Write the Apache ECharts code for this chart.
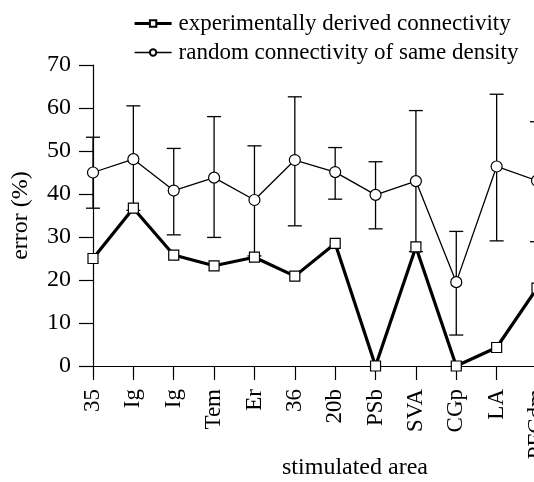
<!DOCTYPE html>
<html>
<head>
<meta charset="utf-8">
</head>
<body style="margin:0; background:#fff">
<div id="main" style="width:534px; height:482px"></div>
<script src="https://cdn.jsdelivr.net/npm/echarts@6/dist/echarts.min.js"></script>
<script>
// stimulated areas (x categories)
var areas = ['35', 'Ig', 'Ig', 'Tem', 'Er', '36', '20b', 'PSb', 'SVA', 'CGp', 'LA', 'PFCdm'];
// error (%) with experimentally derived connectivity
var experimental = [25, 36.7, 25.8, 23.3, 25.3, 20.9, 28.5, 0, 27.7, 0, 4.3, 18.1];
// error (%) with random connectivity of same density, and its error bars
var randomMean = [45, 48.1, 40.8, 43.8, 38.6, 47.9, 45.1, 39.8, 43, 19.5, 46.4, 43.1];
var randomLow  = [36.7, 36.2, 30.5, 29.9, 25.6, 32.6, 38.8, 31.9, 26.6, 7.2, 29.1, 28.9];
var randomHigh = [53.2, 60.5, 50.6, 58, 51.2, 62.6, 50.8, 47.5, 59.4, 31.3, 63.2, 56.8];

var serif = "'Liberation Serif', 'Times New Roman', serif";

var errData = areas.map(function (a, i) {
  return [i, randomLow[i], randomHigh[i]];
});

var chart = echarts.init(document.getElementById('main'));
chart.setOption({
  animation: false,
  backgroundColor: '#fff',
  textStyle: { fontFamily: serif, color: '#000' },
  title: {
    text: 'stimulated area',
    left: 355,
    top: 456,
    textAlign: 'center',
    padding: 0,
    textStyle: { fontFamily: serif, fontSize: 24, fontWeight: 'normal', color: '#000' }
  },
  legend: {
    orient: 'vertical',
    left: 133,
    top: 12,
    itemWidth: 37,
    itemHeight: 8,
    itemGap: 6,
    padding: 0,
    data: [
      { name: 'experimentally derived connectivity', lineStyle: { width: 3.2, color: '#000' } },
      { name: 'random connectivity of same density', lineStyle: { width: 1.3, color: '#000' } }
    ],
    textStyle: { fontFamily: serif, fontSize: 23, color: '#000', lineHeight: 21, padding: [0, 0, 0, 2] }
  },
  grid: { left: 93, right: -3, top: 65, bottom: 116, outerBoundsMode: 'none', containLabel: false },
  xAxis: {
    type: 'category',
    data: areas,
    boundaryGap: false,
    axisLine: { lineStyle: { color: '#000', width: 1.2 } },
    axisTick: { length: 14, lineStyle: { color: '#000', width: 1.2 } },
    axisLabel: { rotate: 90, margin: 23, fontFamily: serif, fontSize: 23, color: '#000', hideOverlap: false },
    splitLine: { show: false }
  },
  yAxis: {
    type: 'value',
    min: 0,
    max: 70,
    interval: 10,
    name: 'error (%)',
    nameLocation: 'middle',
    nameGap: 60,
    nameTextStyle: { fontFamily: serif, fontSize: 24, color: '#000' },
    axisLine: { show: true, lineStyle: { color: '#000', width: 1.2 } },
    axisTick: { show: true, length: 14, lineStyle: { color: '#000', width: 1.2 } },
    axisLabel: { margin: 22, fontFamily: serif, fontSize: 24, color: '#000' },
    splitLine: { show: false }
  },
  series: [
    {
      type: 'custom',
      name: 'errbars',
      data: errData,
      z: 1,
      clip: false,
      renderItem: function (params, api) {
        var x = api.value(0);
        var lo = api.coord([x, api.value(1)]);
        var hi = api.coord([x, api.value(2)]);
        var w = 7;
        var st = { stroke: '#000', lineWidth: 1.3 };
        return {
          type: 'group',
          children: [
            { type: 'line', shape: { x1: lo[0], y1: lo[1], x2: hi[0], y2: hi[1] }, style: st },
            { type: 'line', shape: { x1: hi[0] - w, y1: hi[1], x2: hi[0] + w, y2: hi[1] }, style: st },
            { type: 'line', shape: { x1: lo[0] - w, y1: lo[1], x2: lo[0] + w, y2: lo[1] }, style: st }
          ]
        };
      }
    },
    {
      name: 'experimentally derived connectivity',
      type: 'line',
      data: experimental,
      z: 3,
      symbol: 'rect',
      symbolSize: 10,
      showAllSymbol: true,
      lineStyle: { color: '#000', width: 3.2 },
      itemStyle: { color: '#fff', borderColor: '#000', borderWidth: 1.2 }
    },
    {
      name: 'random connectivity of same density',
      type: 'line',
      data: randomMean,
      z: 2,
      symbol: 'circle',
      symbolSize: 11,
      showAllSymbol: true,
      lineStyle: { color: '#000', width: 1.3 },
      itemStyle: { color: '#fff', borderColor: '#000', borderWidth: 1.2 }
    }
  ]
});
</script>
</body>
</html>
